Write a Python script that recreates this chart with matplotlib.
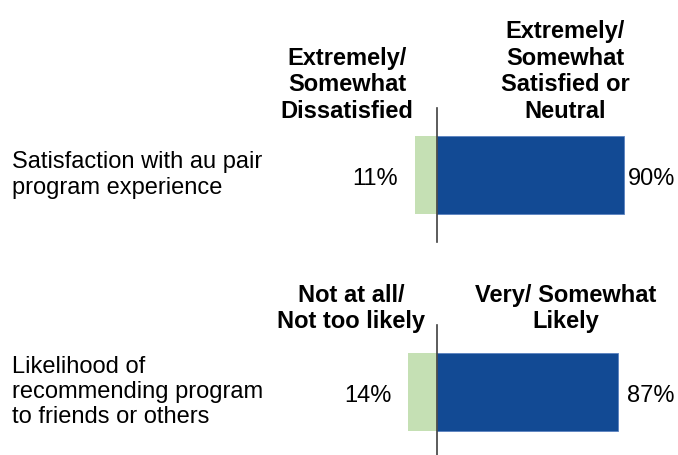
import matplotlib.pyplot as plt

plt.rcParams['font.family'] = ['Liberation Sans', 'DejaVu Sans']

# Data
categories = ['Satisfaction with au pair\nprogram experience',
              'Likelihood of\nrecommending program\nto friends or others']
negative = [11, 14]
positive = [90, 87]
neg_headers = ['Extremely/\nSomewhat\nDissatisfied', 'Not at all/\nNot too likely']
pos_headers = ['Extremely/\nSomewhat\nSatisfied or\nNeutral', 'Very/ Somewhat\nLikely']

green = '#C5E0B4'
blue = '#124A94'

fig = plt.figure(figsize=(6.78, 4.55), dpi=100)
ax = fig.add_axes([0, 0, 1, 1])

ypos = list(range(len(categories)))
bar_h = 0.36

ax.barh(ypos, [-v for v in negative], height=bar_h, color=green)
ax.barh(ypos, positive, height=bar_h, color=blue, edgecolor='#5a82c0', linewidth=0.6)

for y in ypos:
    ax.plot([0, 0], [y - 0.31, y + 0.31], color='#404040', lw=1.2)

fs = 17
for y, lab, n, p in zip(ypos, categories, negative, positive):
    ax.text(-205, y, lab, ha='left', va='center', fontsize=fs, linespacing=1.2)
    ax.text(-n - 8, y + 0.018, f'{n}%', ha='right', va='center', fontsize=fs)
    ax.text(114.5, y + 0.018, f'{p}%', ha='right', va='center', fontsize=fs)

hdr_off = [0.24, 0.27]
neg_x = [-43.5, -41.5]
pos_x = [61.5, 62]
for y, nh, ph, off, nx, px in zip(ypos, neg_headers, pos_headers, hdr_off, neg_x, pos_x):
    ax.text(nx, y - off, nh, ha='center', va='bottom', fontsize=fs,
            fontweight='bold', linespacing=1.2)
    ax.text(px, y - off, ph, ha='center', va='bottom', fontsize=fs,
            fontweight='bold', linespacing=1.2)

ax.set_xlim(-211, 116)
ax.set_ylim(1.29, -0.806)
ax.axis('off')

fig.savefig('out.png', dpi=100)
